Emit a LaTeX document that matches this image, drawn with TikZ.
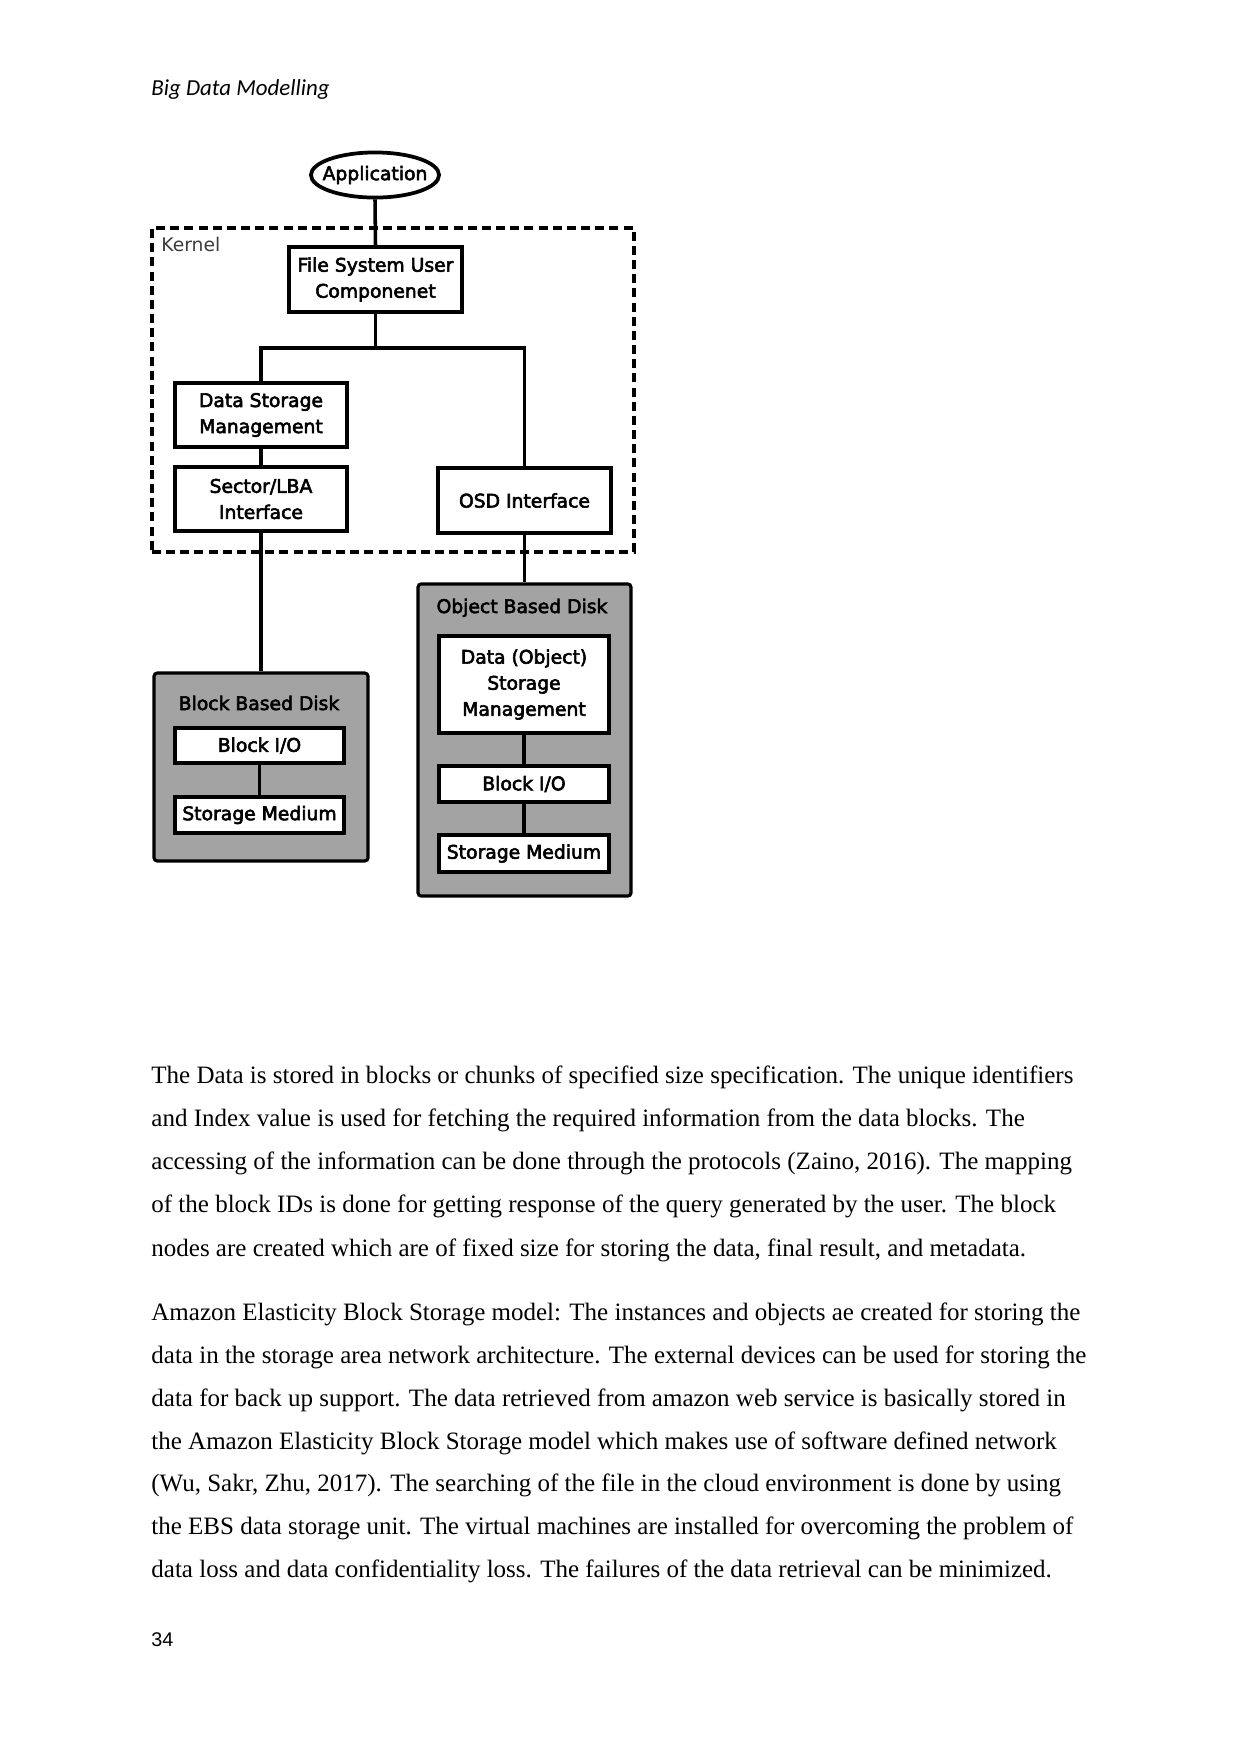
\documentclass[tikz,border=0pt]{standalone}
\usepackage{fontspec}
\setmainfont{Liberation Serif}
\newfontfamily\dvs{DejaVu Sans}[FakeBold=3]
\newfontfamily\dvslight{DejaVu Sans}
\newfontfamily\carl{Carlito}
\newfontfamily\lsans{Liberation Sans}
\usetikzlibrary{shapes.geometric}
\definecolor{diskgray}{RGB}{163,163,163}
\definecolor{kernelgray}{RGB}{60,60,60}
\newcommand{\boxfont}{\dvs\fontsize{9}{12.5}\selectfont}
\newcommand{\bodyfont}{\fontsize{12}{14}\selectfont}
\tikzset{
  box/.style={draw, line width=1.8pt, fill=white, font=\boxfont, align=center, inner sep=0pt},
  disk/.style={draw, line width=1.5pt, fill=diskgray, rounded corners=1.5pt, inner sep=0pt},
  conn/.style={line width=1.7pt},
  kernelbox/.style={draw, dashed, dash pattern=on 4.3pt off 2.5pt, line width=1.6pt, inner sep=0pt},
  bodyline/.style={anchor=base west, inner sep=0pt, font=\bodyfont},
  title/.style={anchor=base, inner sep=0pt, font=\boxfont}
}
\begin{document}
\begin{tikzpicture}[x=0.48pt, y=-0.48pt]
\useasboundingbox (0,0) rectangle (1241,1754);
\fill[white] (0,0) rectangle (1241,1754);

% header
\node[anchor=base west, inner sep=0pt, font=\carl\itshape\fontsize{11}{13}\selectfont] (hdr) at (151,95) {Big Data Modelling};

% kernel
\node[kernelbox, minimum width=231.4pt, minimum height=155.5pt] (kernel) at (393,390) {};
\node[anchor=base west, inner sep=0pt, font=\dvslight\fontsize{9}{11}\selectfont, text=kernelgray] (klabel) at (161,251.5) {Kernel};

% disks
\node[disk, minimum width=102.7pt, minimum height=90.2pt] (bbd) at (261,767) {};
\node[disk, minimum width=102.2pt, minimum height=149.8pt] (obd) at (524.5,740) {};
\node[title] (bbdt) at (259,710) {Block Based Disk};
\node[title] (obdt) at (522,613) {Object Based Disk};

% application
\node[draw, ellipse, line width=1.8pt, fill=white, font=\boxfont, inner xsep=-3.4pt, inner ysep=3.3pt] (app) at (375,175) {Application};

% kernel boxes
\node[box, minimum width=83pt, minimum height=31.2pt] (fsu) at (375.5,279.5) {File System User\\Componenet};
\node[box, minimum width=82.6pt, minimum height=30.7pt] (dsm) at (261,415) {Data Storage\\Management};
\node[box, minimum width=82.6pt, minimum height=30.7pt] (lba) at (261,499) {Sector/LBA\\Interface};
\node[box, minimum width=83pt, minimum height=31.2pt] (osd) at (524.5,500.5) {OSD Interface};

% disk inner boxes
\node[box, minimum width=81.1pt, minimum height=16.8pt] (bio1) at (259.5,745.5) {Block I/O};
\node[box, minimum width=81.1pt, minimum height=17.3pt] (sm1) at (259.5,815) {Storage Medium};
\node[box, minimum width=81.6pt, minimum height=46.6pt] (dosm) at (524,684.5) {Data (Object)\\Storage\\Management};
\node[box, minimum width=81.6pt, minimum height=17.3pt] (bio2) at (524,784) {Block I/O};
\node[box, minimum width=81.6pt, minimum height=17.8pt] (sm2) at (524,853.5) {Storage Medium};

% connectors
\coordinate (br) at (375.5,348);
\draw[conn] (app.south) -- (fsu.north);
\draw[conn] (fsu.south) -- (br);
\draw[conn] (br) -| (dsm.north);
\draw[conn] (br) -| (osd.north);
\draw[conn] (dsm.south) -- (lba.north);
\draw[conn] (lba.south) -- (lba.south |- bbd.north);
\draw[conn] (osd.south) -- (osd.south |- obd.north);
\draw[conn] (bio1.south) -- (sm1.north);
\draw[conn] (dosm.south) -- (bio2.north);
\draw[conn] (bio2.south) -- (sm2.north);

% body text
\node[bodyline] (l1) at (151,1083) {The Data is stored in blocks or chunks of specified size specification. The unique identifiers};
\node[bodyline] (l2) at (151,1126) {and Index value is used for fetching the required information from the data blocks. The};
\node[bodyline] (l3) at (151,1169) {accessing of the information can be done through the protocols (Zaino, 2016). The mapping};
\node[bodyline] (l4) at (151,1212) {of the block IDs is done for getting response of the query generated by the user. The block};
\node[bodyline] (l5) at (151,1256) {nodes are created which are of fixed size for storing the data, final result, and metadata.};
\node[bodyline] (l6) at (151,1320) {Amazon Elasticity Block Storage model: The instances and objects ae created for storing the};
\node[bodyline] (l7) at (151,1363) {data in the storage area network architecture. The external devices can be used for storing the};
\node[bodyline] (l8) at (151,1406) {data for back up support. The data retrieved from amazon web service is basically stored in};
\node[bodyline] (l9) at (151,1449) {the Amazon Elasticity Block Storage model which makes use of software defined network};
\node[bodyline] (l10) at (151,1491) {(Wu, Sakr, Zhu, 2017). The searching of the file in the cloud environment is done by using};
\node[bodyline] (l11) at (151,1534) {the EBS data storage unit. The virtual machines are installed for overcoming the problem of};
\node[bodyline] (l12) at (151,1577) {data loss and data confidentiality loss. The failures of the data retrieval can be minimized.};

% page number
\node[anchor=base west, inner sep=0pt, font=\lsans\fontsize{9.5}{11}\selectfont] (pg) at (151,1646) {34};
\end{tikzpicture}
\end{document}
